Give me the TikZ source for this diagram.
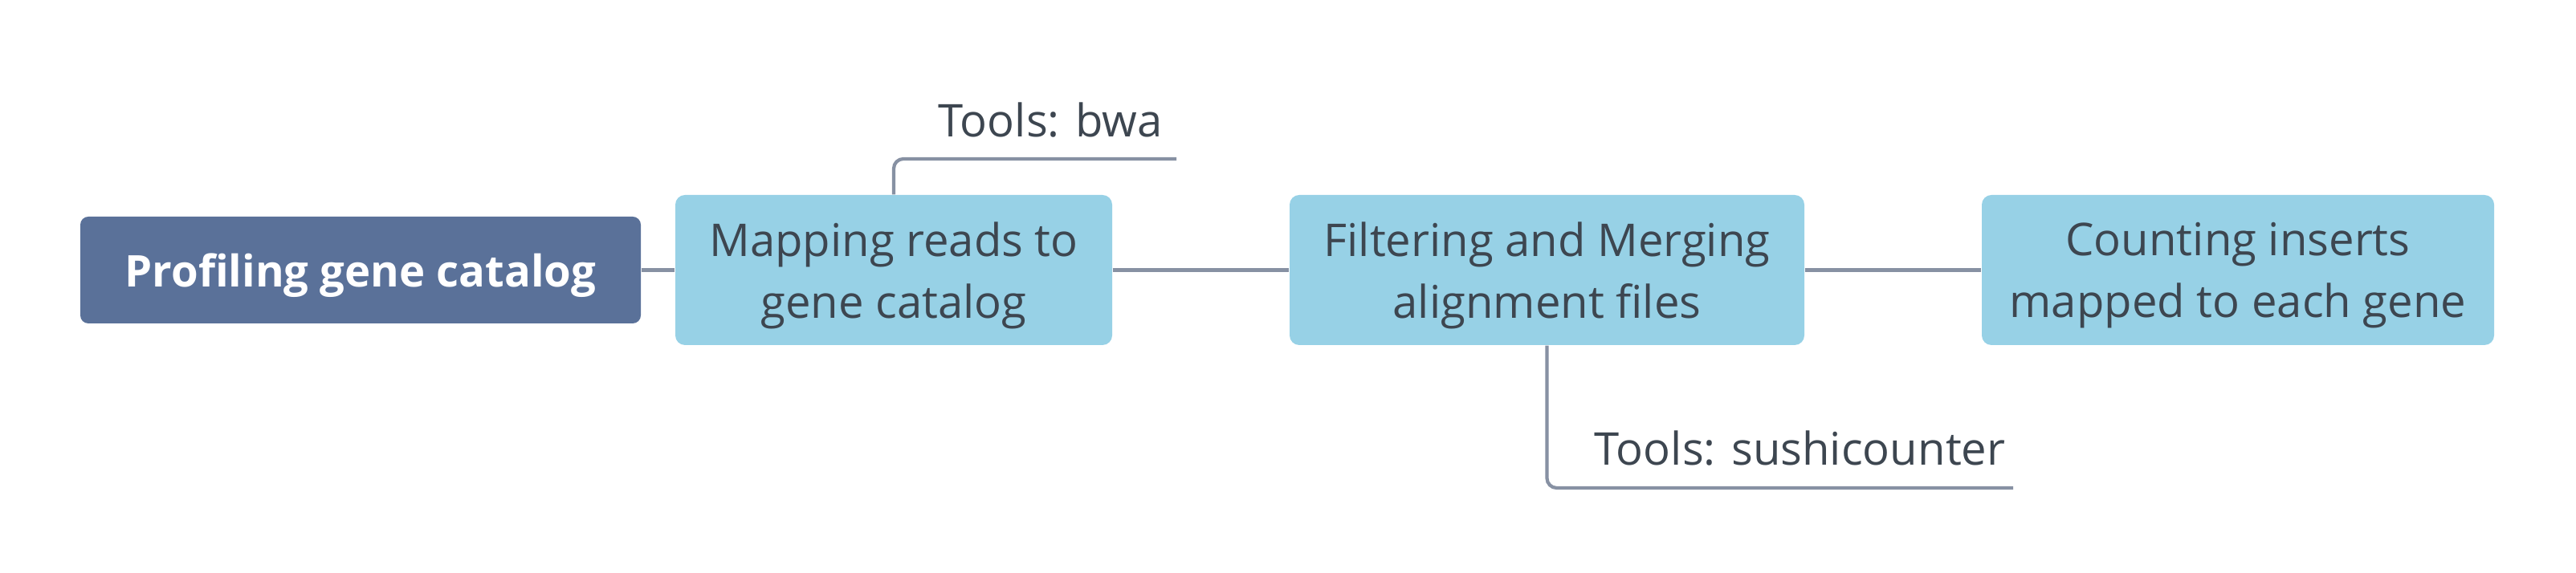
\documentclass[tikz,border=0pt]{standalone}
\usepackage{fontspec}
\setmainfont{Open Sans}
\definecolor{rootblue}{HTML}{5A7199}
\definecolor{stepblue}{HTML}{97D1E6}
\definecolor{inktext}{HTML}{3D4650}
\definecolor{linkgrey}{HTML}{8791A3}
\begin{document}
\begin{tikzpicture}[
    rootbox/.style={fill=rootblue, rounded corners=0.1cm, minimum height=1.33cm, text depth=0pt, text=white, font=\fontsize{15.5}{22}\selectfont\bfseries},
    stepbox/.style={fill=stepblue, rounded corners=0.12cm, minimum height=1.87cm, text depth=0pt, text=inktext, align=center, font=\fontsize{16}{21.8}\selectfont},
    toolnote/.style={text=inktext, anchor=west, inner sep=0pt, font=\fontsize{16}{20}\selectfont},
    link/.style={draw=linkgrey, line width=1.2pt}
]
    \useasboundingbox (0,0) rectangle (32.08,7.14);
    % main chain
    \node[rootbox, minimum width=6.98cm] (root) at (4.49,3.775) {Profiling gene catalog};
    \node[stepbox, minimum width=5.44cm] (mapping) at (11.13,3.775) {Mapping reads to\\gene catalog};
    \node[stepbox, minimum width=6.41cm] (filtering) at (19.265,3.775) {Filtering and Merging\\alignment files};
    \node[stepbox, minimum width=6.38cm] (counting) at (27.87,3.775) {Counting inserts\\mapped to each gene};
    \draw[link] (root.east) -- (mapping.west);
    \draw[link] (mapping.east) -- (filtering.west);
    \draw[link] (filtering.east) -- (counting.west);
    % tool notes
    \node[toolnote] (bwa) at (11.68,5.64) {Tools: bwa};
    \coordinate (bwaend) at (14.65,5.16);
    \draw[link, rounded corners=0.12cm] (mapping.north) |- (bwaend);
    \node[toolnote] (sushi) at (19.85,1.55) {Tools: sushicounter};
    \coordinate (sushiend) at (25.07,1.06);
    \draw[link, rounded corners=0.12cm] (filtering.south) |- (sushiend);
\end{tikzpicture}
\end{document}
